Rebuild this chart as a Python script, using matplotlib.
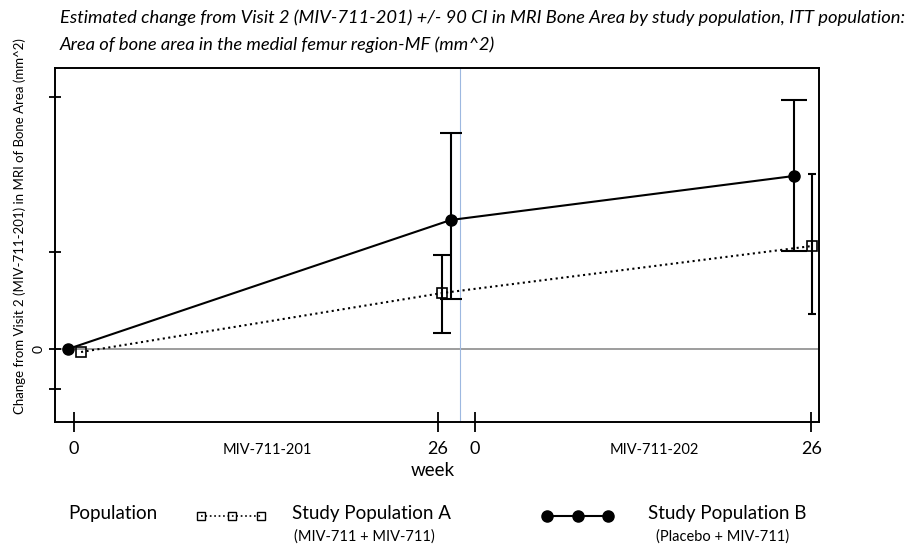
import numpy as np
import matplotlib.pyplot as plt
from matplotlib.lines import Line2D

plt.rcParams['font.family'] = ['Lato', 'DejaVu Sans']

# axis position of each visit (week 0 / 26 of MIV-711-201, then 0 / 26 of MIV-711-202)
tick_pos = [0, 26, 28.64, 52.64]
tick_lab = ['0', '26', '0', '26']

# Study Population A (MIV-711 + MIV-711)
a_x = [0.5, 26.3, 52.7]
a_y = [-0.3, 5.6, 10.3]
a_lo = [None, 1.6, 3.5]
a_hi = [None, 9.4, 17.5]
a_cap = [0, 6.5, 3]

# Study Population B (Placebo + MIV-711)
b_x = [-0.43, 26.9, 51.4]
b_y = [0.0, 12.9, 17.3]
b_lo = [None, 5.0, 9.8]
b_hi = [None, 21.6, 24.9]
b_cap = [0, 8, 9.5]

ytick_pos = [-4.0, 0, 9.7, 25.2]

fig = plt.figure(figsize=(9.1, 5.46), dpi=100)
ax = fig.add_axes([55 / 910, 1 - 422 / 546, 764 / 910, 354 / 546])

ax.axhline(0, color='#8c8c8c', lw=1.2, zorder=1)
ax.axvline(27.57, color='#9db8e0', lw=0.8, zorder=1)

ax.plot(b_x, b_y, '-', color='black', lw=1.5, marker='o', ms=8, zorder=3)
ax.plot(a_x, a_y, ':', color='black', lw=1.5, marker='s', ms=6.5,
        mfc='none', mew=1.2, zorder=3)

for xs, ys, lo, hi, caps in [(a_x, a_y, a_lo, a_hi, a_cap), (b_x, b_y, b_lo, b_hi, b_cap)]:
    for x, y, l, h, c in zip(xs, ys, lo, hi, caps):
        if l is None:
            continue
        ax.errorbar([x], [y], yerr=[[y - l], [h - y]], fmt='none', ecolor='black',
                    elinewidth=1.5, capsize=c, capthick=1.5, zorder=2)

ax.set_xlim(-1.36, 53.2)
ax.set_ylim(-7.3, 28.1)
ax.set_xticks(tick_pos)
ax.set_xticklabels(tick_lab, fontsize=13)
ax.set_yticks(ytick_pos)
ax.set_yticklabels(['', '0', '', ''], fontsize=10, rotation=90, va='center')
ax.tick_params(axis='both', direction='inout', length=15, width=1.3, pad=6)
ax.tick_params(axis='y', length=9, pad=3)
for s in ax.spines.values():
    s.set_linewidth(1.4)

ax.text(0.278, -0.08, 'MIV-711-201', transform=ax.transAxes, fontsize=10.5,
        ha='center', va='center')
ax.text(0.784, -0.08, 'MIV-711-202', transform=ax.transAxes, fontsize=10.5,
        ha='center', va='center')
fig.text(433 / 910, 1 - 470 / 546, 'week', fontsize=13.5, ha='center', va='center')

ax.set_ylabel('Change from Visit 2 (MIV-711-201) in MRI of Bone Area (mm^2)',
              fontsize=9.5)
ax.yaxis.set_label_coords(-0.038, 0.554)

fig.text(60 / 910, 1 - 18 / 546,
         'Estimated change from Visit 2 (MIV-711-201) +/- 90 CI in MRI Bone Area by study population, ITT population:',
         fontsize=13.2, style='italic', ha='left', va='center')
fig.text(60 / 910, 1 - 45 / 546,
         'Area of bone area in the medial femur region-MF (mm^2)',
         fontsize=13.2, style='italic', ha='left', va='center')

# legend row drawn in figure coordinates
fig.text(68 / 910, 1 - 514 / 546, 'Population', fontsize=13.5, ha='left', va='center')
fig.add_artist(Line2D([201 / 910, 232 / 910, 261 / 910], [1 - 516 / 546] * 3,
                      ls=':', color='black', lw=1.2, marker='s', ms=5.5, mfc='none',
                      mew=1.0))
fig.text(292 / 910, 1 - 513 / 546, 'Study Population A', fontsize=13.5, ha='left', va='center')
fig.text(294 / 910, 1 - 537 / 546, '(MIV-711 + MIV-711)', fontsize=10.5, ha='left', va='center')
fig.add_artist(Line2D([547 / 910, 578 / 910, 608 / 910], [1 - 516 / 546] * 3,
                      ls='-', color='black', lw=1.5, marker='o', ms=8))
fig.text(648 / 910, 1 - 513 / 546, 'Study Population B', fontsize=13.5, ha='left', va='center')
fig.text(656 / 910, 1 - 537 / 546, '(Placebo + MIV-711)', fontsize=10.5, ha='left', va='center')

fig.savefig('out.png', dpi=100)
